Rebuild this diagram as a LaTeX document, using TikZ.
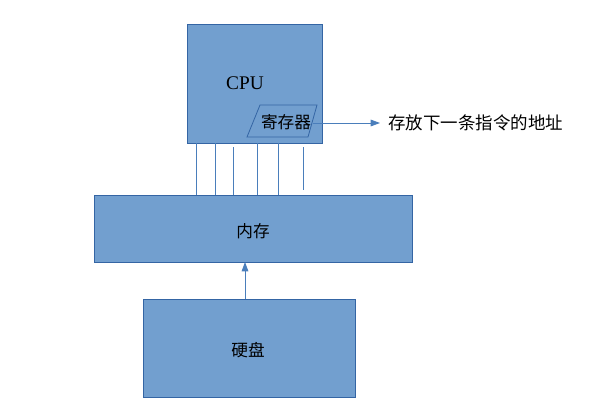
\documentclass[tikz,border=0pt]{standalone}
\usepackage{fontspec}
\setmainfont{Liberation Serif}
\newfontfamily\cjk{Noto Sans CJK SC}
\usetikzlibrary{arrows.meta}
\definecolor{boxfill}{HTML}{729FCF}
\definecolor{boxline}{HTML}{3465A4}
\definecolor{wire}{HTML}{4A7EBB}
\begin{document}
\begin{tikzpicture}[x=0.75pt,y=-0.75pt,
  blk/.style={draw=boxline,fill=boxfill,line width=0.6pt},
  wirel/.style={draw=wire,line width=0.6pt},
  arr/.style={wirel,-{Triangle[length=7pt,width=5pt]}},
  lbl/.style={font=\cjk\fontsize{12.5}{14}\selectfont,inner sep=0pt}]
\useasboundingbox (0,0) rectangle (600,400);
\path[blk] (187,24) rectangle (322,143);
\node[inner sep=0pt,font=\fontsize{14.5}{16}\selectfont] (cpu) at (245,83) {CPU};
\path[blk] (247,137) -- (260,105) -- (317,105) -- (308,137) -- cycle;
\node[lbl] (reg) at (286,122) {寄存器};
\coordinate (regR) at (313,123);
\coordinate (tipR) at (380,123);
\node[lbl,anchor=west,font=\cjk\fontsize{13.1}{15}\selectfont] (addr) at (388,123) {存放下一条指令的地址};
\draw[arr] (regR) -- (tipR);
\path[blk] (94,195) rectangle (412,262);
\node[lbl] (mem) at (253,231) {内存};
\path[blk] (143,299) rectangle (355,397);
\node[lbl] (disk) at (248,350) {硬盘};
\coordinate (dtop) at (245,299);
\coordinate (mbot) at (245,262);
\draw[arr] (dtop) -- (mbot);
\foreach \x/\a/\b in {196/143/195,215/143/195,233/147/195,257/143/195,278/143/195,303/147/190}{
  \coordinate (wa\x) at (\x,\a);
  \coordinate (wb\x) at (\x,\b);
  \draw[wirel] (wa\x) -- (wb\x);
}
\end{tikzpicture}
\end{document}
